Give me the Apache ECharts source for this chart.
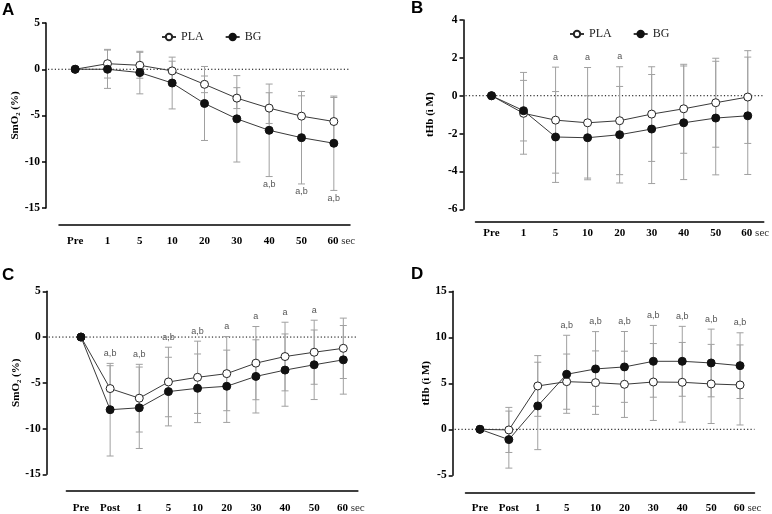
<!DOCTYPE html>
<html><head><meta charset="utf-8">
<script src="https://cdn.jsdelivr.net/npm/echarts@6/dist/echarts.min.js"></script>
<style>html,body{margin:0;padding:0;background:#fff}#c{width:772px;height:514px}</style>
</head><body><div id="c"></div>
<script>
const catsAB = ['Pre','1','5','10','20','30','40','50','60'];
const catsCD = ['Pre','Post','1','5','10','20','30','40','50','60'];

// Panel A  SmO2 (%)
const aPLA   = [0, 0.6, 0.43, -0.18, -1.63, -3.12, -4.2, -5.07, -5.65];
const aPLAsd = [0, 1.55, 1.4, 1.05, 0.9, 1.13, 1.66, 2.2, 2.6];
const aBG    = [0, 0, -0.36, -1.49, -3.7, -5.36, -6.6, -7.4, -8.0];
const aBGsd  = [0, 2.07, 2.3, 2.8, 4.0, 4.67, 5.0, 5.0, 5.1];
const aNote  = ['', '', '', '', '', '', 'a,b', 'a,b', 'a,b'];

// Panel B  tHb
const bPLA   = [0, -0.93, -1.29, -1.43, -1.32, -0.97, -0.69, -0.37, -0.07];
const bPLAsd = [0, 2.16, 2.8, 2.92, 2.85, 2.5, 2.35, 2.35, 2.45];
const bBG    = [0, -0.79, -2.18, -2.22, -2.06, -1.76, -1.43, -1.18, -1.06];
const bBGsd  = [0, 1.6, 2.4, 2.22, 2.55, 2.88, 3.0, 3.0, 3.1];
const bNote  = ['', '', 'a', 'a', 'a', '', '', '', ''];

// Panel C  SmO2 (%)
const cPLA   = [0, -5.63, -6.68, -4.91, -4.4, -4.0, -2.85, -2.13, -1.66, -1.23];
const cPLAsd = [0, 2.5, 3.7, 3.8, 3.95, 4.05, 4.0, 3.75, 3.5, 3.3];
const cBG    = [0, -7.94, -7.73, -5.96, -5.6, -5.38, -4.3, -3.61, -3.03, -2.49];
const cBGsd  = [0, 5.06, 4.45, 3.75, 3.75, 3.95, 4.0, 3.95, 3.8, 3.75];
const cNote  = ['', 'a,b', 'a,b', 'a,b', 'a,b', 'a', 'a', 'a', 'a', ''];

// Panel D  tHb
const dPLA   = [0, -0.07, 4.71, 5.18, 5.07, 4.89, 5.14, 5.11, 4.93, 4.82];
const dPLAsd = [0, 2.45, 3.3, 3.0, 3.45, 3.6, 4.18, 4.33, 4.3, 4.35];
const dBG    = [0, -1.12, 2.54, 5.98, 6.56, 6.78, 7.39, 7.39, 7.21, 6.92];
const dBGsd  = [0, 3.1, 4.75, 4.24, 4.06, 3.85, 3.9, 3.8, 3.68, 3.57];
const dNote  = ['', '', '', 'a,b', 'a,b', 'a,b', 'a,b', 'a,b', 'a,b', 'a,b'];

const SERIF = "'Liberation Serif','Times New Roman',serif";
const SANS = "'Liberation Sans',Arial,sans-serif";

const panels = [
  {cats:catsAB, pla:aPLA, plaSd:aPLAsd, bg:aBG, bgSd:aBGsd, note:aNote, below:true,
   grid:{left:59, top:23, width:291, height:185}, min:-15, max:5, interval:5, yOff:13, xOff:17, xMargin:11,
   name:'SmO₂ (%)', nameGap:22},
  {cats:catsAB, pla:bPLA, plaSd:bPLAsd, bg:bBG, bgSd:bBGsd, note:bNote, below:false,
   grid:{left:475.5, top:20, width:291, height:189.3}, min:-6, max:4, interval:2, yOff:12, xOff:12.4, xMargin:6,
   name:'tHb (ì M)', nameGap:28},
  {cats:catsCD, pla:cPLA, plaSd:cPLAsd, bg:cBG, bgSd:cBGsd, note:cNote, below:false,
   grid:{left:66.4, top:291.3, width:291.5, height:184.7}, min:-15, max:5, interval:5, yOff:19.7, xOff:16.7, xMargin:12,
   name:'SmO₂ (%)', nameGap:24},
  {cats:catsCD, pla:dPLA, plaSd:dPLAsd, bg:dBG, bgSd:dBGsd, note:dNote, below:false,
   grid:{left:465.5, top:291.3, width:289, height:184}, min:-5, max:15, interval:5, yOff:12.8, xOff:17.4, xMargin:10,
   name:'tHb (ì M)', nameGap:18}
];

function errRender(params, api) {
  const x = api.value(0), m = api.value(1), s = api.value(2);
  if (!s) return null;
  const t = api.coord([x, m + s]), b = api.coord([x, m - s]);
  const w = 3.5, st = {stroke:'#a0a0a0', lineWidth:1};
  return {type:'group', children:[
    {type:'line', shape:{x1:t[0], y1:t[1], x2:b[0], y2:b[1]}, style:st},
    {type:'line', shape:{x1:t[0]-w, y1:t[1], x2:t[0]+w, y2:t[1]}, style:st},
    {type:'line', shape:{x1:b[0]-w, y1:b[1], x2:b[0]+w, y2:b[1]}, style:st}
  ]};
}

const grids = [], xAxes = [], yAxes = [], series = [];
panels.forEach((p, k) => {
  grids.push(Object.assign({containLabel:false}, p.grid));
  xAxes.push({
    type:'category', gridIndex:k, data:p.cats, offset:p.xOff, boundaryGap:true,
    axisLine:{onZero:false, lineStyle:{color:'#000', width:1.5}},
    axisTick:{alignWithLabel:true, interval:0, length:5, lineStyle:{color:'#000', width:1.5}},
    axisLabel:{interval:0, margin:p.xMargin, color:'#000', fontFamily:SERIF, fontWeight:'bold', fontSize:11,
      formatter: v => v === '60' ? '{p|}{b|60}{n| sec}' : v,
      rich:{
        p:{width:15},
        b:{fontFamily:SERIF, fontWeight:'bold', fontSize:11, color:'#000'},
        n:{fontFamily:SERIF, fontWeight:'normal', fontSize:11, color:'#333'}
      }},
    splitLine:{show:false}
  });
  yAxes.push({
    type:'value', gridIndex:k, min:p.min, max:p.max, interval:p.interval, offset:p.yOff,
    axisLine:{show:true, onZero:false, lineStyle:{color:'#000', width:1.5}},
    axisTick:{show:true, length:4, lineStyle:{color:'#000', width:1.5}},
    axisLabel:{margin:6, color:'#000', fontFamily:SERIF, fontWeight:'bold', fontSize:11.5},
    splitLine:{show:false},
    name:p.name, nameLocation:'middle', nameRotate:90, nameGap:p.nameGap,
    nameTextStyle:{fontFamily:SERIF, fontWeight:'bold', fontSize:11, color:'#000'}
  });
  const yOff = p.yOff;
  series.push({type:'custom', name:'zero'+k, xAxisIndex:k, yAxisIndex:k, silent:true, z:0,
    data:[[0, 0]],
    renderItem:(params, api) => {
      const cs = params.coordSys;
      const pt = api.coord([0, 0]);
      return {type:'line', shape:{x1:cs.x - yOff + 2, y1:pt[1], x2:cs.x + cs.width, y2:pt[1]},
        style:{stroke:'#000', lineWidth:1, lineDash:[1.2, 2.2]}};
    }});
  const errData = (m, s) => p.cats.map((c, i) => [i, m[i], s[i]]);
  series.push({type:'custom', name:'errPLA'+k, xAxisIndex:k, yAxisIndex:k, renderItem:errRender,
    data:errData(p.pla, p.plaSd), z:1, silent:true});
  series.push({type:'custom', name:'errBG'+k, xAxisIndex:k, yAxisIndex:k, renderItem:errRender,
    data:errData(p.bg, p.bgSd), z:1, silent:true});
  series.push({type:'line', name:'PLA', xAxisIndex:k, yAxisIndex:k, data:p.pla,
    symbol:'circle', symbolSize:8, lineStyle:{color:'#3a3a3a', width:1},
    itemStyle:{color:'#fff', borderColor:'#222', borderWidth:1}, z:5});
  series.push({type:'line', name:'BG', xAxisIndex:k, yAxisIndex:k, data:p.bg,
    symbol:'circle', symbolSize:8, lineStyle:{color:'#3a3a3a', width:1},
    itemStyle:{color:'#111', borderColor:'#111', borderWidth:1}, z:6});
  const anchors = p.cats.map((c, i) => {
    const hi = Math.max(p.pla[i] + p.plaSd[i], p.bg[i] + p.bgSd[i]);
    const lo = Math.min(p.pla[i] - p.plaSd[i], p.bg[i] - p.bgSd[i]);
    return [i, p.below ? lo : hi];
  });
  const notes = p.note, below = p.below;
  series.push({type:'custom', name:'note'+k, xAxisIndex:k, yAxisIndex:k, silent:true, z:7,
    data:anchors,
    renderItem:(params, api) => {
      const txt = notes[params.dataIndex];
      if (!txt) return null;
      const pt = api.coord([api.value(0), api.value(1)]);
      return {type:'text', style:{text:txt, x:pt[0], y:pt[1] + (below ? 8 : -10),
        align:'center', verticalAlign:'middle', fontSize:9, fontFamily:SANS, fill:'#555'}};
    }});
});

const legendBase = {
  data:['PLA','BG'], orient:'horizontal', itemWidth:14, itemHeight:8, itemGap:21,
  textStyle:{fontFamily:SERIF, fontSize:12, color:'#222'}, selectedMode:false
};

const chart = echarts.init(document.getElementById('c'), null, {renderer:'canvas'});
chart.setOption({
  animation:false,
  backgroundColor:'#fff',
  grid:grids, xAxis:xAxes, yAxis:yAxes, series:series,
  legend:[
    Object.assign({left:156, top:26}, legendBase),
    Object.assign({left:564, top:23}, legendBase)
  ],
  graphic:[
    {type:'text', left:2, top:2, style:{text:'A', font:"bold 17px 'Liberation Sans',Arial,sans-serif", fill:'#000'}},
    {type:'text', left:411, top:0, style:{text:'B', font:"bold 17px 'Liberation Sans',Arial,sans-serif", fill:'#000'}},
    {type:'text', left:2, top:267, style:{text:'C', font:"bold 17px 'Liberation Sans',Arial,sans-serif", fill:'#000'}},
    {type:'text', left:411, top:266, style:{text:'D', font:"bold 17px 'Liberation Sans',Arial,sans-serif", fill:'#000'}}
  ]
});
</script></body></html>
